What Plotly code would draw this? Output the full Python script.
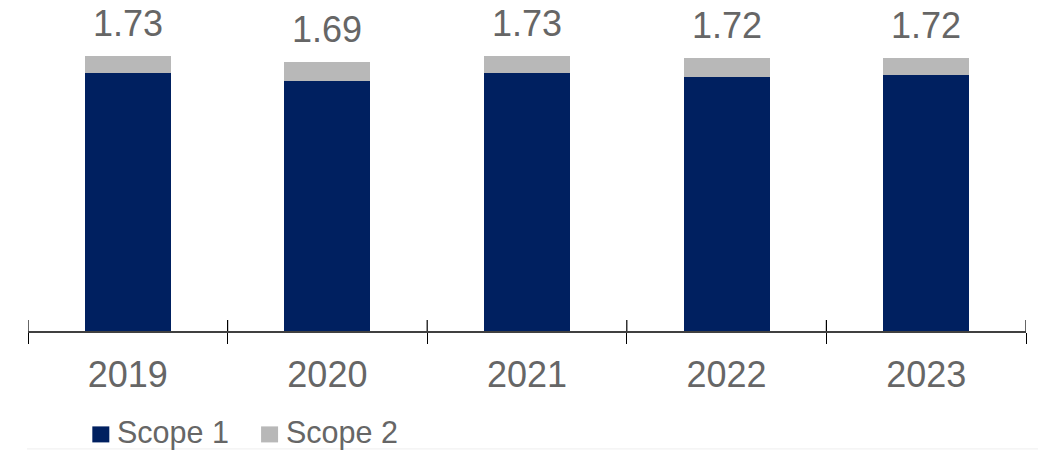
import plotly.graph_objects as go

# Emissions by year, split by scope
years = ["2019", "2020", "2021", "2022", "2023"]
scope1 = [1.62, 1.57, 1.62, 1.60, 1.61]
scope2 = [0.11, 0.12, 0.11, 0.12, 0.11]
totals = [1.73, 1.69, 1.73, 1.72, 1.72]
series_names = ["Scope 1", "Scope 2"]

NAVY = "#002060"
GREY = "#B8B8B8"
TEXT = "#666666"
FONT = "Liberation Sans, Arial, sans-serif"

W, H = 1038, 452
L, R, T, B = 28, 12.3, 13, 121.3


def px_x(p):
    return (p - L) / (W - L - R)


def px_y(p):
    return (H - B - p) / (H - T - B)


fig = go.Figure()
fig.add_trace(go.Bar(x=years, y=scope1, name=series_names[0],
                     marker=dict(color=NAVY, line=dict(width=0)), showlegend=False))
fig.add_trace(go.Bar(x=years, y=scope2, name=series_names[1],
                     marker=dict(color=GREY, line=dict(width=0)), showlegend=False))

# total labels above each stack
annotations = []
for i, (a, b, t) in enumerate(zip(scope1, scope2, totals)):
    annotations.append(dict(x=i, y=a + b, xref="x", yref="y", text=f"{t:.2f}",
                            showarrow=False, yanchor="bottom", yshift=10,
                            font=dict(size=36, color=TEXT, family=FONT)))

# legend drawn by hand: square swatches + labels
legend_items = [(series_names[0], NAVY, 92.3), (series_names[1], GREY, 261.0)]
shapes = []
for name, col, x0 in legend_items:
    shapes.append(dict(type="rect", xref="paper", yref="paper",
                       x0=px_x(x0), x1=px_x(x0 + 17), y0=px_y(442), y1=px_y(426),
                       fillcolor=col, line=dict(width=0)))
    annotations.append(dict(x=px_x(x0 + 23), y=px_y(432), xref="paper", yref="paper",
                            text=name, showarrow=False, xanchor="left", yanchor="middle",
                            font=dict(size=30.5, color=TEXT, family=FONT)))

# upper half of the boundary ticks (the lower half comes from the axis)
for i in range(len(years) + 1):
    shapes.append(dict(type="line", xref="x", yref="y", x0=i - 0.5, x1=i - 0.5,
                       ysizemode="pixel", yanchor=0, y0=0, y1=11,
                       line=dict(color="#000000", width=1.2)))

# faint rule along the bottom
shapes.append(dict(type="line", xref="paper", yref="paper",
                   x0=px_x(27), x1=px_x(W), y0=px_y(448.5), y1=px_y(448.5),
                   line=dict(color="#EEEEEE", width=1)))

fig.update_layout(
    width=W, height=H,
    margin=dict(l=L, r=R, t=T, b=B, pad=0),
    barmode="stack", bargap=0.57,
    plot_bgcolor="white", paper_bgcolor="white",
    font=dict(family=FONT, color=TEXT),
    annotations=annotations, shapes=shapes,
    xaxis=dict(type="category", categoryorder="array", categoryarray=years,
               range=[-0.5, len(years) - 0.5],
               showline=True, linecolor="#404040", linewidth=1.5,
               tickson="boundaries", ticks="outside", ticklen=11,
               tickcolor="#000000", tickwidth=1.2,
               tickfont=dict(size=36, color=TEXT, family=FONT),
               ticklabelstandoff=11, showgrid=False, zeroline=False),
    yaxis=dict(range=[0, 2.0], visible=False, showgrid=False, zeroline=False),
    showlegend=False,
)

fig.write_html("out.html")
